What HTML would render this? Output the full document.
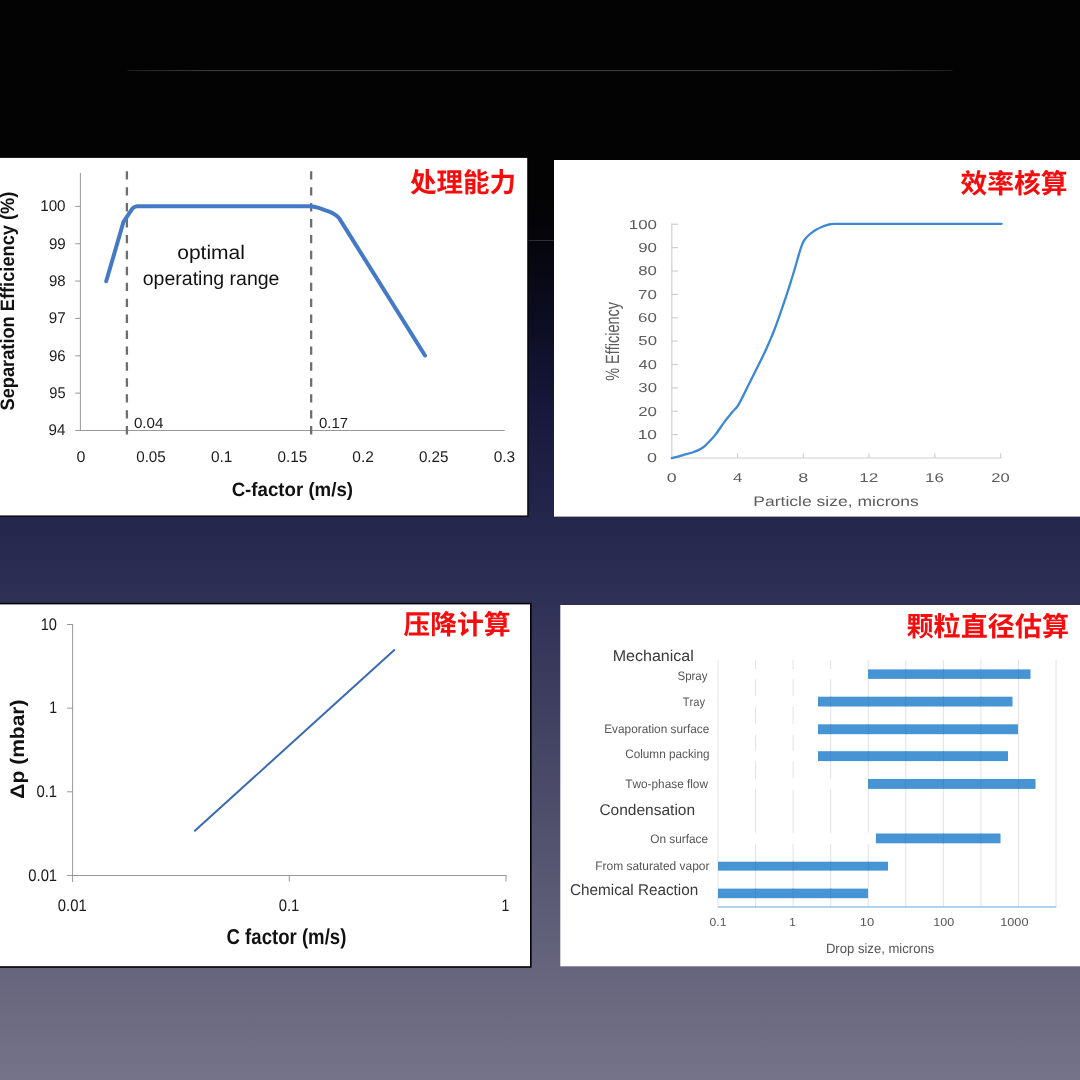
<!DOCTYPE html>
<html lang="zh"><head><meta charset="utf-8"><title>Slide</title>
<style>
html,body{margin:0;padding:0}
body{width:1080px;height:1080px;overflow:hidden;background:#030303;font-family:"Liberation Sans",sans-serif}
#bg{position:absolute;left:0;top:0;width:1080px;height:1080px;background:linear-gradient(to bottom,#030303 0px,#030304 200px,#05050b 240px,#0d0e25 330px,#17183b 410px,#25264c 520px,#2f3055 600px,#4b4b69 790px,#66657d 970px,#747389 1080px)}
svg{position:absolute;left:0;top:0;font-family:"Liberation Sans",sans-serif;font-kerning:none;will-change:transform;text-rendering:geometricPrecision}
text{font-kerning:none;white-space:pre}
</style></head><body>
<div id="bg"></div>
<svg width="1080" height="1080" viewBox="0 0 1080 1080">
<defs><linearGradient id="hl" x1="0" x2="1" y1="0" y2="0"><stop offset="0" stop-color="#1c1c1c"/><stop offset="0.1" stop-color="#3c3c3c"/><stop offset="0.9" stop-color="#3c3c3c"/><stop offset="1" stop-color="#1c1c1c"/></linearGradient></defs>
<rect x="127.5" y="70" width="825" height="1.1" fill="url(#hl)"/>
<rect x="0" y="240" width="1080" height="1" fill="#2e2e34"/>
<rect x="-3" y="157.2" width="530.9" height="358.9" fill="#fff" stroke="#000" stroke-width="1.3"/>
<rect x="554" y="160" width="530" height="356.6" fill="#fff"/>
<rect x="-3" y="603.6" width="533.8" height="363.4" fill="#fff" stroke="#000" stroke-width="1.6"/>
<rect x="560.3" y="605" width="523" height="361.3" fill="#fff"/>
<line x1="80.4" y1="173" x2="80.4" y2="431" stroke="#8c8c8c" stroke-width="0.9"/>
<line x1="75.2" y1="430.5" x2="504.8" y2="430.5" stroke="#8c8c8c" stroke-width="0.9"/>
<line x1="75.2" y1="206.4" x2="80.4" y2="206.4" stroke="#8c8c8c" stroke-width="0.9"/>
<text x="40.18" y="211.3" font-size="15.54" fill="#1c1c1c" textLength="25.41" lengthAdjust="spacingAndGlyphs">100</text>
<line x1="75.2" y1="243.75" x2="80.4" y2="243.75" stroke="#8c8c8c" stroke-width="0.9"/>
<text x="48.91" y="248.65" font-size="15.54" fill="#1c1c1c" textLength="16.8" lengthAdjust="spacingAndGlyphs">99</text>
<line x1="75.2" y1="281.1" x2="80.4" y2="281.1" stroke="#8c8c8c" stroke-width="0.9"/>
<text x="49.02" y="286" font-size="15.54" fill="#1c1c1c" textLength="16.63" lengthAdjust="spacingAndGlyphs">98</text>
<line x1="75.2" y1="318.45" x2="80.4" y2="318.45" stroke="#8c8c8c" stroke-width="0.9"/>
<text x="48.87" y="323.35" font-size="15.54" fill="#1c1c1c" textLength="16.89" lengthAdjust="spacingAndGlyphs">97</text>
<line x1="75.2" y1="355.8" x2="80.4" y2="355.8" stroke="#8c8c8c" stroke-width="0.9"/>
<text x="48.92" y="360.7" font-size="15.54" fill="#1c1c1c" textLength="16.74" lengthAdjust="spacingAndGlyphs">96</text>
<line x1="75.2" y1="393.15" x2="80.4" y2="393.15" stroke="#8c8c8c" stroke-width="0.9"/>
<text x="49.35" y="398.05" font-size="15.54" fill="#1c1c1c" textLength="16.26" lengthAdjust="spacingAndGlyphs">95</text>
<text x="48.61" y="435.4" font-size="15.54" fill="#1c1c1c" textLength="16.83" lengthAdjust="spacingAndGlyphs">94</text>
<text x="76.45" y="462" font-size="15.54" fill="#1c1c1c" textLength="8.89" lengthAdjust="spacingAndGlyphs">0</text>
<text x="136.2" y="462" font-size="15.54" fill="#1c1c1c" textLength="29.59" lengthAdjust="spacingAndGlyphs">0.05</text>
<text x="211.01" y="462" font-size="15.54" fill="#1c1c1c" textLength="21.44" lengthAdjust="spacingAndGlyphs">0.1</text>
<text x="277.55" y="462" font-size="15.54" fill="#1c1c1c" textLength="29.59" lengthAdjust="spacingAndGlyphs">0.15</text>
<text x="352.33" y="462" font-size="15.54" fill="#1c1c1c" textLength="21.5" lengthAdjust="spacingAndGlyphs">0.2</text>
<text x="418.9" y="462" font-size="15.54" fill="#1c1c1c" textLength="29.59" lengthAdjust="spacingAndGlyphs">0.25</text>
<text x="493.65" y="462" font-size="15.54" fill="#1c1c1c" textLength="21.48" lengthAdjust="spacingAndGlyphs">0.3</text>
<line x1="126.9" y1="171.2" x2="126.9" y2="434.6" stroke="#6e6e6e" stroke-width="2.3" stroke-dasharray="8.4 7.53"/>
<line x1="311.15" y1="171.2" x2="311.15" y2="434.6" stroke="#6e6e6e" stroke-width="2.3" stroke-dasharray="8.4 7.53"/>
<text x="133.91" y="427.7" font-size="14.6" fill="#1c1c1c" textLength="29.54" lengthAdjust="spacingAndGlyphs">0.04</text>
<text x="319.02" y="427.9" font-size="14.6" fill="#1c1c1c" textLength="29.14" lengthAdjust="spacingAndGlyphs">0.17</text>
<text x="177.22" y="259.4" font-size="19.7" fill="#111" textLength="67.69" lengthAdjust="spacingAndGlyphs">optimal</text>
<text x="142.78" y="285.3" font-size="19.7" fill="#111" textLength="136.69" lengthAdjust="spacingAndGlyphs">operating range</text>
<text x="231.63" y="495.9" font-size="19.4" font-weight="700" fill="#111" textLength="121.4" lengthAdjust="spacingAndGlyphs">C-factor (m/s)</text>
<text transform="translate(13.75 410) rotate(-90)" x="-0.53" y="0" font-size="19.4" font-weight="700" fill="#111" textLength="218.93" lengthAdjust="spacingAndGlyphs">Separation Efficiency (%)</text>
<path d="M106.2 281.3 L123.5 221.8 L132.2 208.8 Q133.6 206.8 137.6 206.15 L311 206.15 C316 206.7 322 208.8 325.6 210.3 C330 212 335.6 213.6 339.4 218.6 L425 355.5" fill="none" stroke="#4479c6" stroke-width="4" stroke-linecap="round" stroke-linejoin="round"/>
<text x="410" y="192.2" font-size="27" font-weight="700" fill="#f60c0c" font-family="'Liberation Sans','Noto Sans CJK SC',sans-serif" textLength="106" lengthAdjust="spacingAndGlyphs">处理能力</text>
<line x1="671.8" y1="223.2" x2="671.8" y2="458.6" stroke="#cfcfcf" stroke-width="1.15"/>
<line x1="671.8" y1="458" x2="1001.6" y2="458" stroke="#cfcfcf" stroke-width="1.15"/>
<text x="647" y="462.3" font-size="13" fill="#5c5c5c" textLength="10.01" lengthAdjust="spacingAndGlyphs">0</text>
<line x1="671.8" y1="434.62" x2="678" y2="434.62" stroke="#cfcfcf" stroke-width="1.2"/>
<text x="637.68" y="438.93" font-size="13" fill="#5c5c5c" textLength="19.3" lengthAdjust="spacingAndGlyphs">10</text>
<line x1="671.8" y1="411.25" x2="678" y2="411.25" stroke="#cfcfcf" stroke-width="1.2"/>
<text x="638.15" y="415.55" font-size="13" fill="#5c5c5c" textLength="18.81" lengthAdjust="spacingAndGlyphs">20</text>
<line x1="671.8" y1="387.88" x2="678" y2="387.88" stroke="#cfcfcf" stroke-width="1.2"/>
<text x="638.36" y="392.18" font-size="13" fill="#5c5c5c" textLength="18.59" lengthAdjust="spacingAndGlyphs">30</text>
<line x1="671.8" y1="364.5" x2="678" y2="364.5" stroke="#cfcfcf" stroke-width="1.2"/>
<text x="638.62" y="368.8" font-size="13" fill="#5c5c5c" textLength="18.32" lengthAdjust="spacingAndGlyphs">40</text>
<line x1="671.8" y1="341.12" x2="678" y2="341.12" stroke="#cfcfcf" stroke-width="1.2"/>
<text x="638.33" y="345.43" font-size="13" fill="#5c5c5c" textLength="18.62" lengthAdjust="spacingAndGlyphs">50</text>
<line x1="671.8" y1="317.75" x2="678" y2="317.75" stroke="#cfcfcf" stroke-width="1.2"/>
<text x="638.14" y="322.05" font-size="13" fill="#5c5c5c" textLength="18.82" lengthAdjust="spacingAndGlyphs">60</text>
<line x1="671.8" y1="294.38" x2="678" y2="294.38" stroke="#cfcfcf" stroke-width="1.2"/>
<text x="638.13" y="298.68" font-size="13" fill="#5c5c5c" textLength="18.83" lengthAdjust="spacingAndGlyphs">70</text>
<line x1="671.8" y1="271" x2="678" y2="271" stroke="#cfcfcf" stroke-width="1.2"/>
<text x="638.27" y="275.3" font-size="13" fill="#5c5c5c" textLength="18.69" lengthAdjust="spacingAndGlyphs">80</text>
<line x1="671.8" y1="247.62" x2="678" y2="247.62" stroke="#cfcfcf" stroke-width="1.2"/>
<text x="638.21" y="251.93" font-size="13" fill="#5c5c5c" textLength="18.75" lengthAdjust="spacingAndGlyphs">90</text>
<line x1="671.8" y1="224.25" x2="678" y2="224.25" stroke="#cfcfcf" stroke-width="1.2"/>
<text x="628.76" y="228.55" font-size="13" fill="#5c5c5c" textLength="28.2" lengthAdjust="spacingAndGlyphs">100</text>
<text x="666.86" y="482.3" font-size="12.7" fill="#5c5c5c" textLength="9.89" lengthAdjust="spacingAndGlyphs">0</text>
<line x1="737.56" y1="453.4" x2="737.56" y2="458" stroke="#cfcfcf" stroke-width="1.2"/>
<text x="732.92" y="482.3" font-size="12.7" fill="#5c5c5c" textLength="9.38" lengthAdjust="spacingAndGlyphs">4</text>
<line x1="803.32" y1="453.4" x2="803.32" y2="458" stroke="#cfcfcf" stroke-width="1.2"/>
<text x="798.28" y="482.3" font-size="12.7" fill="#5c5c5c" textLength="10.07" lengthAdjust="spacingAndGlyphs">8</text>
<line x1="869.08" y1="453.4" x2="869.08" y2="458" stroke="#cfcfcf" stroke-width="1.2"/>
<text x="859.32" y="482.3" font-size="12.7" fill="#5c5c5c" textLength="19.07" lengthAdjust="spacingAndGlyphs">12</text>
<line x1="934.84" y1="453.4" x2="934.84" y2="458" stroke="#cfcfcf" stroke-width="1.2"/>
<text x="925.09" y="482.3" font-size="12.7" fill="#5c5c5c" textLength="18.95" lengthAdjust="spacingAndGlyphs">16</text>
<line x1="1000.6" y1="453.4" x2="1000.6" y2="458" stroke="#cfcfcf" stroke-width="1.2"/>
<text x="991.32" y="482.3" font-size="12.7" fill="#5c5c5c" textLength="18.38" lengthAdjust="spacingAndGlyphs">20</text>
<text x="753.36" y="506.3" font-size="13.9" fill="#5c5c5c" textLength="165.37" lengthAdjust="spacingAndGlyphs">Particle size, microns</text>
<text transform="translate(619.3 380.3) rotate(-90)" x="-0.52" y="0" font-size="19.2" fill="#5c5c5c" textLength="78.84" lengthAdjust="spacingAndGlyphs">% Efficiency</text>
<path d="M671.8 458.2 C672.67 457.97 675.08 457.32 677 456.8 C678.92 456.28 680.73 455.82 683.3 455.1 C685.87 454.38 689.8 453.37 692.4 452.5 C695 451.63 696.95 450.87 698.9 449.9 C700.85 448.93 702.37 448.1 704.1 446.7 C705.83 445.3 707.37 443.55 709.3 441.5 C711.23 439.45 713.12 437.75 715.7 434.4 C718.28 431.05 721.98 425.18 724.8 421.4 C727.62 417.62 730.43 414.3 732.6 411.7 C734.77 409.1 736.07 408.4 737.8 405.8 C739.53 403.2 741.28 399.45 743 396.1 C744.72 392.75 745.95 390.02 748.1 385.7 C750.25 381.38 753.3 375.38 755.9 370.2 C758.5 365.02 761.53 359.13 763.7 354.6 C765.87 350.07 767.13 347.1 768.9 343 C770.67 338.9 772.08 335.87 774.3 330 C776.52 324.13 779.77 314.83 782.2 307.8 C784.63 300.77 786.87 294.1 788.9 287.8 C790.93 281.5 792.73 275.57 794.4 270 C796.07 264.43 797.68 258.47 798.9 254.4 C800.12 250.33 800.78 248 801.7 245.6 C802.62 243.2 803.2 241.77 804.4 240 C805.6 238.23 807.03 236.67 808.9 235 C810.77 233.33 813.38 231.38 815.6 230 C817.82 228.62 819.98 227.62 822.2 226.7 C824.42 225.78 826.67 224.97 828.9 224.5 C831.13 224.03 832.92 224.02 835.6 223.9 C838.28 223.78 843.43 223.82 845 223.8 L1001.6 223.8" fill="none" stroke="#3c89d1" stroke-width="2.3" stroke-linecap="round" stroke-linejoin="round"/>
<text x="960.5" y="192.8" font-size="27" font-weight="700" fill="#f60c0c" font-family="'Liberation Sans','Noto Sans CJK SC',sans-serif" textLength="107" lengthAdjust="spacingAndGlyphs">效率核算</text>
<line x1="72.6" y1="624" x2="72.6" y2="882" stroke="#8c8c8c" stroke-width="0.9"/>
<line x1="67" y1="875.5" x2="506.4" y2="875.5" stroke="#8c8c8c" stroke-width="0.9"/>
<line x1="67" y1="624.5" x2="72.6" y2="624.5" stroke="#8c8c8c" stroke-width="0.9"/>
<text x="40.7" y="629.8" font-size="16.74" fill="#1c1c1c" textLength="16.27" lengthAdjust="spacingAndGlyphs">10</text>
<line x1="67" y1="708.15" x2="72.6" y2="708.15" stroke="#8c8c8c" stroke-width="0.9"/>
<text x="49.25" y="713.45" font-size="16.74" fill="#1c1c1c" textLength="7.84" lengthAdjust="spacingAndGlyphs">1</text>
<line x1="67" y1="791.8" x2="72.6" y2="791.8" stroke="#8c8c8c" stroke-width="0.9"/>
<text x="36.47" y="797.1" font-size="16.74" fill="#1c1c1c" textLength="20.65" lengthAdjust="spacingAndGlyphs">0.1</text>
<text x="28.27" y="880.75" font-size="16.74" fill="#1c1c1c" textLength="28.85" lengthAdjust="spacingAndGlyphs">0.01</text>
<text x="57.85" y="910.8" font-size="16.74" fill="#1c1c1c" textLength="28.85" lengthAdjust="spacingAndGlyphs">0.01</text>
<line x1="289.3" y1="875.5" x2="289.3" y2="881.6" stroke="#8c8c8c" stroke-width="0.9"/>
<text x="278.65" y="910.8" font-size="16.74" fill="#1c1c1c" textLength="20.65" lengthAdjust="spacingAndGlyphs">0.1</text>
<line x1="506" y1="875.5" x2="506" y2="881.6" stroke="#8c8c8c" stroke-width="0.9"/>
<text x="501.49" y="910.8" font-size="16.74" fill="#1c1c1c" textLength="7.84" lengthAdjust="spacingAndGlyphs">1</text>
<text x="226.54" y="944.2" font-size="21.6" font-weight="700" fill="#111" textLength="119.79" lengthAdjust="spacingAndGlyphs">C factor (m/s)</text>
<text transform="translate(23.9 797.8) rotate(-90)" x="-0.85" y="0" font-size="19.6" font-weight="700" fill="#111" textLength="99.2" lengthAdjust="spacingAndGlyphs">Δp (mbar)</text>
<line x1="194.9" y1="830.8" x2="394.3" y2="650.1" stroke="#3a6ab1" stroke-width="2" stroke-linecap="round"/>
<text x="403.5" y="634.2" font-size="27" font-weight="700" fill="#f60c0c" font-family="'Liberation Sans','Noto Sans CJK SC',sans-serif" textLength="107" lengthAdjust="spacingAndGlyphs">压降计算</text>
<line x1="718" y1="660" x2="718" y2="907" stroke="#e2e2e5" stroke-width="1"/>
<line x1="755.56" y1="660" x2="755.56" y2="907" stroke="#e2e2e5" stroke-width="1"/>
<line x1="793.12" y1="660" x2="793.12" y2="907" stroke="#e2e2e5" stroke-width="1"/>
<line x1="830.68" y1="660" x2="830.68" y2="907" stroke="#e2e2e5" stroke-width="1"/>
<line x1="868.24" y1="660" x2="868.24" y2="907" stroke="#e2e2e5" stroke-width="1"/>
<line x1="905.8" y1="660" x2="905.8" y2="907" stroke="#e2e2e5" stroke-width="1"/>
<line x1="943.36" y1="660" x2="943.36" y2="907" stroke="#e2e2e5" stroke-width="1"/>
<line x1="980.92" y1="660" x2="980.92" y2="907" stroke="#e2e2e5" stroke-width="1"/>
<line x1="1018.48" y1="660" x2="1018.48" y2="907" stroke="#e2e2e5" stroke-width="1"/>
<line x1="1056.04" y1="660" x2="1056.04" y2="907" stroke="#e2e2e5" stroke-width="1"/>
<rect x="718.7" y="669" width="149.3" height="10.3" fill="#fff"/>
<rect x="868" y="669.4" width="162.5" height="9.5" fill="#4794d5"/>
<line x1="905.8" y1="669.4" x2="905.8" y2="678.9" stroke="#408bcd" stroke-width="1"/>
<line x1="943.36" y1="669.4" x2="943.36" y2="678.9" stroke="#408bcd" stroke-width="1"/>
<line x1="980.92" y1="669.4" x2="980.92" y2="678.9" stroke="#408bcd" stroke-width="1"/>
<line x1="1018.48" y1="669.4" x2="1018.48" y2="678.9" stroke="#408bcd" stroke-width="1"/>
<rect x="718.7" y="696.3" width="99.3" height="10.6" fill="#fff"/>
<rect x="818" y="696.7" width="194.5" height="9.8" fill="#4794d5"/>
<line x1="830.68" y1="696.7" x2="830.68" y2="706.5" stroke="#408bcd" stroke-width="1"/>
<line x1="868.24" y1="696.7" x2="868.24" y2="706.5" stroke="#408bcd" stroke-width="1"/>
<line x1="905.8" y1="696.7" x2="905.8" y2="706.5" stroke="#408bcd" stroke-width="1"/>
<line x1="943.36" y1="696.7" x2="943.36" y2="706.5" stroke="#408bcd" stroke-width="1"/>
<line x1="980.92" y1="696.7" x2="980.92" y2="706.5" stroke="#408bcd" stroke-width="1"/>
<rect x="718.7" y="723.9" width="99.3" height="10.7" fill="#fff"/>
<rect x="818" y="724.3" width="200" height="9.9" fill="#4794d5"/>
<line x1="830.68" y1="724.3" x2="830.68" y2="734.2" stroke="#408bcd" stroke-width="1"/>
<line x1="868.24" y1="724.3" x2="868.24" y2="734.2" stroke="#408bcd" stroke-width="1"/>
<line x1="905.8" y1="724.3" x2="905.8" y2="734.2" stroke="#408bcd" stroke-width="1"/>
<line x1="943.36" y1="724.3" x2="943.36" y2="734.2" stroke="#408bcd" stroke-width="1"/>
<line x1="980.92" y1="724.3" x2="980.92" y2="734.2" stroke="#408bcd" stroke-width="1"/>
<rect x="718.7" y="750.8" width="99.3" height="10.7" fill="#fff"/>
<rect x="818" y="751.2" width="190" height="9.9" fill="#4794d5"/>
<line x1="830.68" y1="751.2" x2="830.68" y2="761.1" stroke="#408bcd" stroke-width="1"/>
<line x1="868.24" y1="751.2" x2="868.24" y2="761.1" stroke="#408bcd" stroke-width="1"/>
<line x1="905.8" y1="751.2" x2="905.8" y2="761.1" stroke="#408bcd" stroke-width="1"/>
<line x1="943.36" y1="751.2" x2="943.36" y2="761.1" stroke="#408bcd" stroke-width="1"/>
<line x1="980.92" y1="751.2" x2="980.92" y2="761.1" stroke="#408bcd" stroke-width="1"/>
<rect x="718.7" y="778.6" width="149.3" height="10.7" fill="#fff"/>
<rect x="868" y="779" width="167.5" height="9.9" fill="#4794d5"/>
<line x1="905.8" y1="779" x2="905.8" y2="788.9" stroke="#408bcd" stroke-width="1"/>
<line x1="943.36" y1="779" x2="943.36" y2="788.9" stroke="#408bcd" stroke-width="1"/>
<line x1="980.92" y1="779" x2="980.92" y2="788.9" stroke="#408bcd" stroke-width="1"/>
<line x1="1018.48" y1="779" x2="1018.48" y2="788.9" stroke="#408bcd" stroke-width="1"/>
<rect x="718.7" y="833.1" width="157.2" height="10.6" fill="#fff"/>
<rect x="875.9" y="833.5" width="124.6" height="9.8" fill="#4794d5"/>
<line x1="905.8" y1="833.5" x2="905.8" y2="843.3" stroke="#408bcd" stroke-width="1"/>
<line x1="943.36" y1="833.5" x2="943.36" y2="843.3" stroke="#408bcd" stroke-width="1"/>
<line x1="980.92" y1="833.5" x2="980.92" y2="843.3" stroke="#408bcd" stroke-width="1"/>
<rect x="718" y="861.7" width="170" height="8.9" fill="#4794d5"/>
<line x1="755.56" y1="861.7" x2="755.56" y2="870.6" stroke="#408bcd" stroke-width="1"/>
<line x1="793.12" y1="861.7" x2="793.12" y2="870.6" stroke="#408bcd" stroke-width="1"/>
<line x1="830.68" y1="861.7" x2="830.68" y2="870.6" stroke="#408bcd" stroke-width="1"/>
<line x1="868.24" y1="861.7" x2="868.24" y2="870.6" stroke="#408bcd" stroke-width="1"/>
<rect x="718" y="888.6" width="150" height="9.6" fill="#4794d5"/>
<line x1="755.56" y1="888.6" x2="755.56" y2="898.2" stroke="#408bcd" stroke-width="1"/>
<line x1="793.12" y1="888.6" x2="793.12" y2="898.2" stroke="#408bcd" stroke-width="1"/>
<line x1="830.68" y1="888.6" x2="830.68" y2="898.2" stroke="#408bcd" stroke-width="1"/>
<line x1="718" y1="907" x2="1056.3" y2="907" stroke="#64a9e3" stroke-width="1.2"/>
<text x="612.68" y="660.75" font-size="15.6" fill="#3a3a3a" textLength="81.19" lengthAdjust="spacingAndGlyphs">Mechanical</text>
<text x="599.41" y="815.2" font-size="15.5" fill="#3a3a3a" textLength="95.69" lengthAdjust="spacingAndGlyphs">Condensation</text>
<text x="570.02" y="895.3" font-size="15.6" fill="#3a3a3a" textLength="128.17" lengthAdjust="spacingAndGlyphs">Chemical Reaction</text>
<text x="677.48" y="680" font-size="12.3" fill="#555" textLength="30.04" lengthAdjust="spacingAndGlyphs">Spray</text>
<text x="682.75" y="706" font-size="12.3" fill="#555" textLength="22.27" lengthAdjust="spacingAndGlyphs">Tray</text>
<text x="604.23" y="733.4" font-size="12.3" fill="#555" textLength="105.04" lengthAdjust="spacingAndGlyphs">Evaporation surface</text>
<text x="625.15" y="757.6" font-size="12.3" fill="#555" textLength="84.36" lengthAdjust="spacingAndGlyphs">Column packing</text>
<text x="625.33" y="788" font-size="12.3" fill="#555" textLength="82.64" lengthAdjust="spacingAndGlyphs">Two-phase flow</text>
<text x="650.19" y="843" font-size="12.3" fill="#555" textLength="57.84" lengthAdjust="spacingAndGlyphs">On surface</text>
<text x="595.22" y="869.7" font-size="12.3" fill="#555" textLength="114.23" lengthAdjust="spacingAndGlyphs">From saturated vapor</text>
<text x="709.55" y="926.25" font-size="11.6" fill="#555" textLength="16.81" lengthAdjust="spacingAndGlyphs">0.1</text>
<text x="789.32" y="926.25" font-size="11.6" fill="#555" textLength="6.45" lengthAdjust="spacingAndGlyphs">1</text>
<text x="859.81" y="926.25" font-size="11.6" fill="#555" textLength="14.5" lengthAdjust="spacingAndGlyphs">10</text>
<text x="933.29" y="926.25" font-size="11.6" fill="#555" textLength="20.95" lengthAdjust="spacingAndGlyphs">100</text>
<text x="1000.26" y="926.25" font-size="11.6" fill="#555" textLength="28.21" lengthAdjust="spacingAndGlyphs">1000</text>
<text x="825.93" y="952.5" font-size="13.6" fill="#555" textLength="108.3" lengthAdjust="spacingAndGlyphs">Drop size, microns</text>
<text x="906.5" y="635.6" font-size="27" font-weight="700" fill="#f60c0c" font-family="'Liberation Sans','Noto Sans CJK SC',sans-serif" textLength="162.5" lengthAdjust="spacingAndGlyphs">颗粒直径估算</text>
</svg>
</body></html>
